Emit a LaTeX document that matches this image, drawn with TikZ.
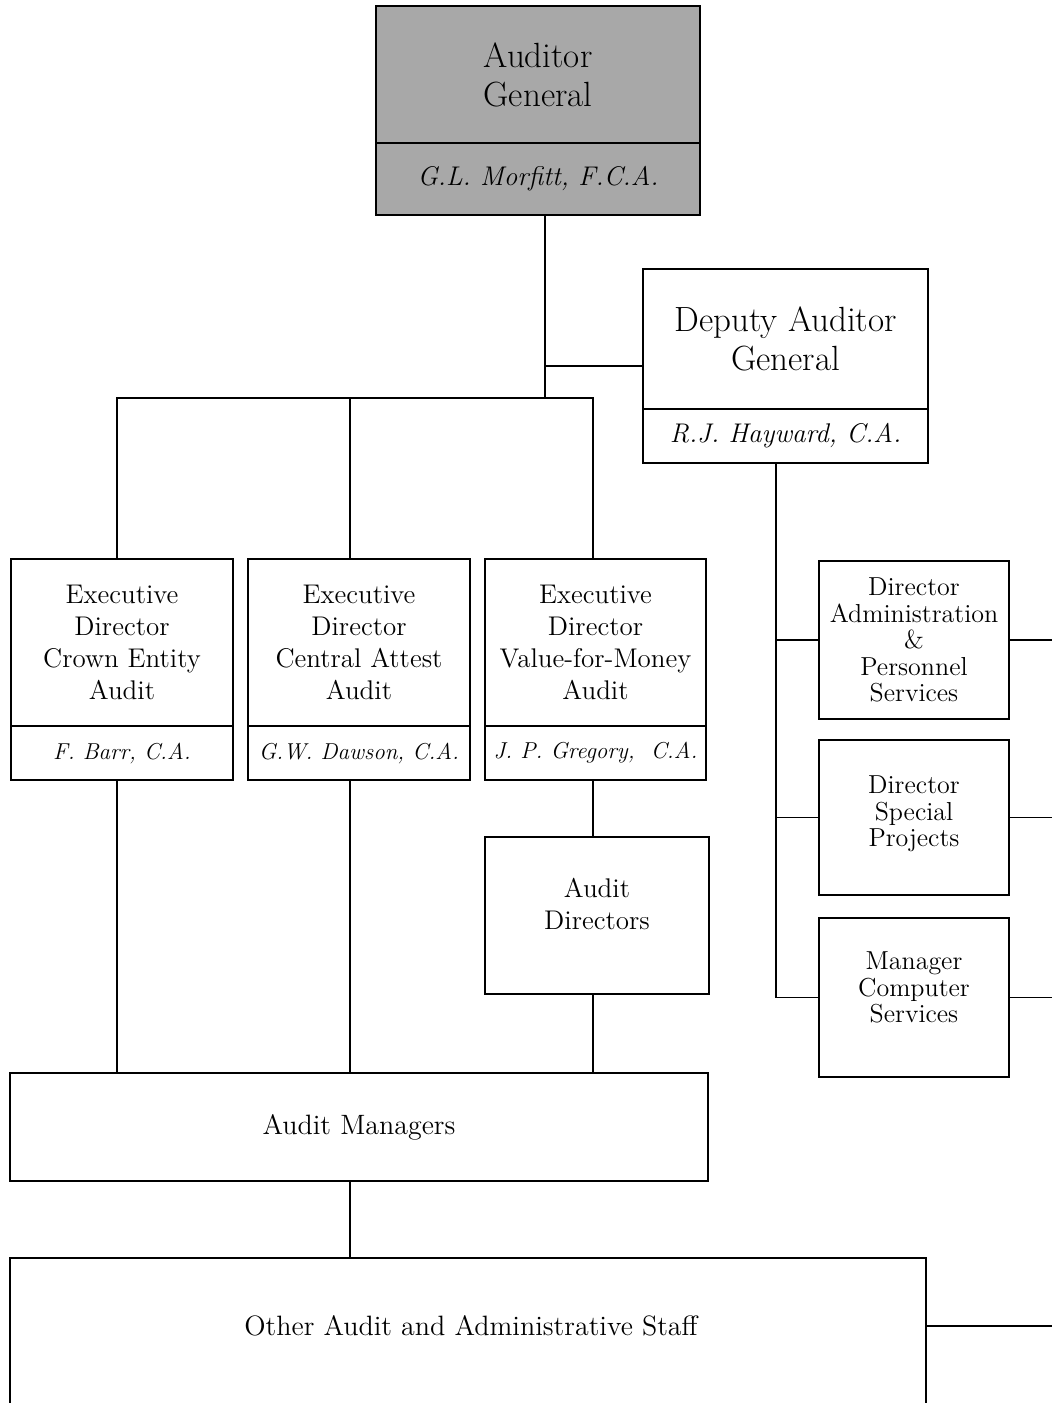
\documentclass[tikz,border=0pt]{standalone}
\usepackage{fontspec}
\usetikzlibrary{positioning,calc}

\tikzset{
  box/.style={draw, line width=0.9pt, align=center, inner sep=0pt, outer sep=0pt},
  headtxt/.style={font=\fontsize{17.5}{19.5}\selectfont},
  headname/.style={font=\fontsize{13.5}{16}\selectfont\itshape},
  unittxt/.style={font=\fontsize{13.5}{16}\selectfont},
  nametxt/.style={font=\fontsize{11.5}{14}\selectfont\itshape},
  sidetxt/.style={font=\fontsize{13}{13.2}\selectfont}
}

\begin{document}
\begin{tikzpicture}[x=0.5pt, y=-0.5pt, line width=0.75pt]
  \useasboundingbox (0,0) rectangle (1052,1403);
  \clip (0,0) rectangle (1052,1403);

  % top of the office
  \node[box, headtxt, fill=gray!68, minimum width=162pt, minimum height=68.5pt]
    (ag) at (538,74.5) {Auditor\\General};
  \node[box, headname, fill=gray!68, minimum width=162pt, minimum height=36pt,
    below=0pt of ag] (agN) {G.L. Morfitt, F.C.A.};
  \node[box, headtxt, minimum width=142.5pt, minimum height=70pt]
    (dag) at (785.5,339) {Deputy Auditor\\General};
  \node[box, headname, minimum width=142.5pt, minimum height=27pt,
    below=0pt of dag] (dagN) {R.J. Hayward, C.A.};

  % executive directors
  \node[box, unittxt, minimum width=111pt, minimum height=83.5pt]
    (ce) at (122,642.5) {Executive\\Director\\Crown Entity\\Audit};
  \node[box, unittxt, minimum width=111pt, minimum height=83.5pt,
    right=7.5pt of ce] (ca) {Executive\\Director\\Central Attest\\Audit};
  \node[box, unittxt, minimum width=110.5pt, minimum height=83.5pt,
    right=7.5pt of ca] (vm) {Executive\\Director\\Value-for-Money\\Audit};
  \node[box, nametxt, minimum width=111pt, minimum height=27pt,
    below=0pt of ce] (ceN) {F. Barr, C.A.};
  \node[box, nametxt, minimum width=111pt, minimum height=27pt,
    below=0pt of ca] (caN) {G.W. Dawson, C.A.};
  \node[box, nametxt, minimum width=110.5pt, minimum height=27pt,
    below=0pt of vm] (vmN) {J. P. Gregory,\ \ C.A.};

  \node[box, unittxt, minimum width=112pt, minimum height=78.5pt]
    (ad) at (597,915.5) {Audit\\Directors\\[-4pt]\mbox{}};
  \node[box, unittxt, font=\fontsize{14}{16}\selectfont,
    minimum width=349pt, minimum height=54pt]
    (am) at (359,1127) {Audit Managers};
  \node[box, minimum width=458pt, minimum height=90pt, anchor=north west]
    (os) at (10,1258) {};
  \node[unittxt, font=\fontsize{14}{16}\selectfont]
    (osT) at (471,1326) {Other Audit and Administrative Staff};

  % deputy's side units
  \node[box, sidetxt, minimum width=95pt, minimum height=79pt]
    (da) at (914,640) {Director\\Administration\\\&\\Personnel\\Services};
  \node[box, sidetxt, minimum width=95pt, minimum height=77.5pt]
    (sp) at (914,817.5) {Director\\Special\\Projects\\[-7pt]\mbox{}};
  \node[box, sidetxt, minimum width=95pt, minimum height=79.5pt]
    (cs) at (914,997.5) {Manager\\Computer\\Services\\[-3pt]\mbox{}};

  \coordinate (bar) at (0,398);
  \coordinate (rim) at (1052,0);
  \coordinate (dagmid) at ($(dag.north west)!.5!(dagN.south west)$);
  \coordinate (agdrop) at ([xshift=3.5pt]agN.south);
  \coordinate (spine) at ([xshift=-4.75pt]dagN.south);
  \coordinate (ceL) at ([xshift=-2.5pt]ce.north);
  \coordinate (caL) at ([xshift=-4.5pt]ca.north);
  \coordinate (vmL) at ([xshift=-1.25pt]vm.north);

  % connectors
  \draw (agdrop) -- (agdrop |- bar);
  \draw (dagmid) -- (dagmid -| agdrop);
  \draw (ceL) -- (ceL |- bar) -- (vmL |- bar) -- (vmL);
  \draw (caL) -- (caL |- bar);
  \draw (ceL |- ceN.south) -- (ceL |- am.north);
  \draw (caL |- caN.south) -- (caL |- am.north);
  \draw (vmL |- vmN.south) -- (vmL |- ad.north);
  \draw (vmL |- ad.south) -- (vmL |- am.north);
  \draw (caL |- am.south) -- (caL |- os.north);

  \draw (spine) |- (cs.west);
  \draw (spine |- da.west) -- (da.west);
  \draw (spine |- sp.west) -- (sp.west);
  \foreach \b in {da,sp,cs}
    \draw (\b.east) -- (\b.east -| rim);
  \draw (osT -| os.east) -- (osT -| rim);
\end{tikzpicture}
\end{document}
